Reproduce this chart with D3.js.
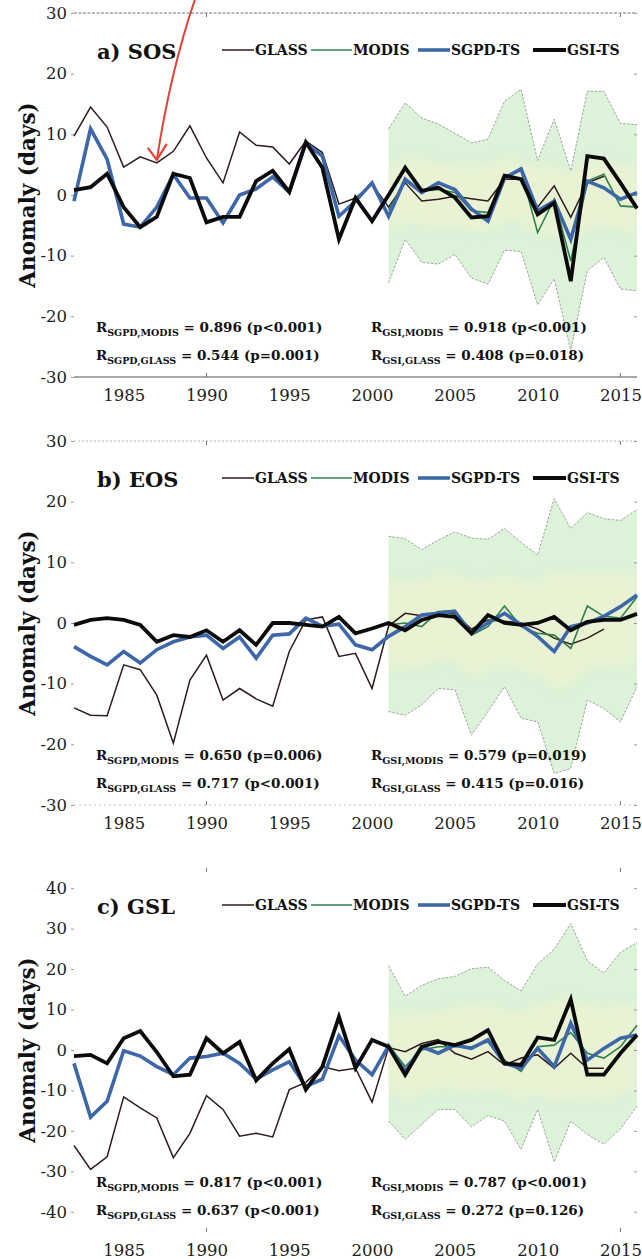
<!DOCTYPE html>
<html><head><meta charset="utf-8">
<script src="https://cdn.jsdelivr.net/npm/d3@7"></script>
<style>
body{margin:0;background:#fff}
svg{display:block}
text{font-family:"DejaVu Serif",serif}
</style>
</head><body>
<svg id="chart" width="642" height="1259"></svg>
<script>
// ---- years ----
const yearsAll = d3.range(1982, 2017);      // SGPD-TS, GSI-TS
const yearsGlass = d3.range(1982, 2015);    // GLASS
const yearsModis = d3.range(2001, 2017);    // MODIS and its spread

// ---- a) SOS anomalies (days) ----
const sosGlass = [9.7,14.5,11.2,4.6,6.3,5.3,7.2,11.4,6.1,2.0,10.4,8.2,7.9,5.1,8.9,7.0,-1.5,-0.5,1.8,-2.0,2.0,-1.0,-0.7,-0.2,-0.6,-1.0,2.6,2.6,-2.0,1.5,-3.7,2.0,3.1];
const sosSgpd  = [-1.0,10.9,5.9,-4.8,-5.3,-2.0,3.4,-0.5,-0.5,-4.6,0.0,1.0,3.0,0.5,8.5,6.4,-3.5,-1.0,2.0,-3.5,2.6,0.4,2.0,0.9,-2.3,-4.3,2.8,4.3,-2.6,-1.0,-7.3,2.3,1.2,-0.7,0.4];
const sosGsi   = [0.8,1.3,3.5,-2.0,-5.3,-3.6,3.5,2.8,-4.5,-3.6,-3.6,2.3,4.0,0.5,8.7,4.5,-7.3,-0.5,-4.3,0.0,4.5,0.7,1.2,-0.4,-3.7,-3.5,3.2,2.6,-3.2,-1.3,-14.2,6.4,6.0,2.0,-2.2];
const sosModis = [-2.5,2.3,0.7,0.9,0.4,-2.6,-2.9,3.1,4.0,-6.2,-0.7,-10.9,2.3,3.4,-1.8,-2.0];
const sosHi    = [10.9,15.2,12.7,11.7,10.2,8.6,9.2,15.5,17.4,5.7,12.5,4.0,17.1,17.1,11.8,11.6];
const sosLo    = [-14.5,-7.3,-11.1,-11.4,-9.8,-13.7,-14.7,-9.1,-9.3,-18.1,-13.8,-25.7,-12.5,-10.3,-15.5,-15.8];
const sosInHi  = [5,6,6,5,5,4,5,6,6,4,5,3,6,6,5,5];
const sosInLo  = [-6,-4,-5,-5,-5,-6,-6,-4,-4,-7,-6,-9,-5,-5,-6,-6];

// ---- b) EOS anomalies (days) ----
const eosGlass = [-14.0,-15.2,-15.3,-6.9,-7.7,-11.9,-19.8,-9.4,-5.3,-12.7,-10.8,-12.5,-13.7,-4.7,0.5,1.0,-5.5,-5.0,-10.8,-0.5,1.6,1.2,1.8,1.5,-1.0,0.5,0.3,0.0,-1.0,-2.5,-3.5,-2.5,-1.0];
const eosSgpd  = [-3.9,-5.5,-6.9,-4.7,-6.6,-4.4,-3.1,-2.3,-2.0,-4.2,-2.3,-5.8,-2.0,-1.8,0.8,-0.5,-0.2,-3.6,-4.4,-2.2,-0.6,1.3,1.6,1.9,-1.7,0.0,1.6,-0.3,-2.2,-4.7,-0.6,0.0,1.1,2.7,4.6];
const eosGsi   = [-0.3,0.5,0.8,0.5,-0.3,-3.1,-2.0,-2.3,-1.2,-3.1,-1.2,-3.6,0.0,0.0,-0.3,-0.6,1.0,-1.7,-0.9,0.0,-1.2,0.5,1.3,1.0,-1.7,1.3,0.0,-0.3,0.0,1.0,-1.2,0.2,0.5,0.5,1.5];
const eosModis = [-0.3,0.0,-0.6,1.9,2.1,-2.0,-0.6,2.8,-0.6,-1.7,-2.0,-4.2,2.8,1.1,0.8,4.3];
const eosHi    = [14.3,13.9,12.1,13.7,15.0,14.0,13.8,15.6,13.3,11.2,20.5,15.6,18.2,17.2,16.9,18.7];
const eosLo    = [-14.6,-15.2,-13.5,-10.8,-11.0,-18.5,-14.6,-10.5,-15.7,-16.3,-24.8,-24.0,-12.7,-14.1,-16.3,-10.5];
const eosInHi  = [7,7,7,8,8,7,7,8,7,6,9,8,8,8,8,8];
const eosInLo  = [-7,-8,-7,-6,-6,-9,-8,-6,-8,-8,-11,-11,-7,-7,-8,-6];

// ---- c) GSL anomalies (days) ----
const gslGlass = [-23.6,-29.5,-26.4,-11.6,-14.3,-16.8,-26.6,-20.6,-11.3,-14.7,-21.3,-20.6,-21.5,-9.8,-8.0,-4.1,-5.1,-4.5,-12.9,0.6,-0.4,1.6,2.6,-0.8,-2.3,-0.4,-3.7,-2.0,-1.2,-4.5,-0.8,-4.5,-4.5];
const gslSgpd  = [-3.3,-16.6,-12.7,-0.2,-1.5,-4.1,-6.1,-2.0,-1.6,-0.8,-3.3,-7.2,-4.9,-2.9,-9.0,-7.2,3.5,-2.5,-6.1,1.0,-5.3,0.8,-0.8,1.2,0.4,2.5,-3.3,-4.5,0.4,-4.1,6.6,-2.5,0.4,2.9,3.7];
const gslGsi   = [-1.5,-1.2,-3.3,2.9,4.7,-0.5,-6.5,-6.1,2.9,-0.8,2.0,-7.5,-3.3,0.2,-9.8,-4.1,8.2,-4.5,2.5,0.8,-6.1,0.8,2.0,1.2,2.5,4.9,-3.3,-3.7,3.1,2.5,12.5,-6.1,-6.1,-0.8,3.7];
const gslModis = [1.2,-4.1,0.0,0.8,0.8,0.8,2.0,-2.5,-5.3,0.8,1.2,4.3,-0.8,-2.0,0.8,6.1];
const gslHi    = [20.9,13.3,16.0,17.6,18.2,20.1,20.5,17.2,14.6,21.3,24.9,31.3,22.1,19.0,24.2,26.6];
const gslLo    = [-17.6,-22.1,-18.4,-14.7,-14.7,-19.0,-16.2,-17.6,-24.6,-14.7,-27.7,-17.6,-20.9,-23.3,-19.5,-13.9];
const gslInHi  = [10,8,9,10,10,11,11,10,9,11,12,13,11,10,11,12];
const gslInLo  = [-10,-12,-11,-9,-9,-11,-10,-10,-13,-9,-14,-11,-12,-12,-11,-9];

// ---- labels ----
const panelTitles = ["a) SOS", "b) EOS", "c) GSL"];
const seriesNames = ["GLASS", "MODIS", "SGPD-TS", "GSI-TS"];
const xTickLabels = [1985, 1990, 1995, 2000, 2005, 2010, 2015];
const xMinorTicks = [1990, 2015];
const yTicksAB = [-30, -20, -10, 0, 10, 20, 30];
const yTicksC = [-40, -30, -20, -10, 0, 10, 20, 30, 40];
const corrSos = [["SGPD,MODIS","0.896","p<0.001"],["SGPD,GLASS","0.544","p=0.001"],["GSI,MODIS","0.918","p<0.001"],["GSI,GLASS","0.408","p=0.018"]];
const corrEos = [["SGPD,MODIS","0.650","p=0.006"],["SGPD,GLASS","0.717","p<0.001"],["GSI,MODIS","0.579","p=0.019"],["GSI,GLASS","0.415","p=0.016"]];
const corrGsl = [["SGPD,MODIS","0.817","p<0.001"],["SGPD,GLASS","0.637","p<0.001"],["GSI,MODIS","0.787","p<0.001"],["GSI,GLASS","0.272","p=0.126"]];

// ---- styling ----
const colors = {glass:"#2e1c1c", modis:"#2f7f4c", sgpd:"#3d67a8", gsi:"#0b0b0b"};
const widths = {glass:1.5, modis:1.6, sgpd:3.6, gsi:3.8};

const svg = d3.select("#chart");
const defs = svg.append("defs");
defs.append("filter").attr("id","soft").attr("x","-10%").attr("y","-30%").attr("width","120%").attr("height","160%")
  .append("feGaussianBlur").attr("stdDeviation", 5);

const x = d3.scaleLinear().domain([1982, 2016]).range([74, 637]);

const panels = [
  {title:panelTitles[0], top:13,  dom:[-30,30], ticks:yTicksAB, glass:sosGlass, sgpd:sosSgpd, gsi:sosGsi, modis:sosModis, hi:sosHi, lo:sosLo, inHi:sosInHi, inLo:sosInLo, corr:corrSos, frame:"a"},
  {title:panelTitles[1], top:441, dom:[-30,30], ticks:yTicksAB, glass:eosGlass, sgpd:eosSgpd, gsi:eosGsi, modis:eosModis, hi:eosHi, lo:eosLo, inHi:eosInHi, inLo:eosInLo, corr:corrEos, frame:"b"},
  {title:panelTitles[2], top:868, dom:[-45,45], ticks:yTicksC, glass:gslGlass, sgpd:gslSgpd, gsi:gslGsi, modis:gslModis, hi:gslHi, lo:gslLo, inHi:gslInHi, inLo:gslInLo, corr:corrGsl, frame:"c"}
];
const panelH = 364;

panels.forEach((p, pi) => {
  const y = d3.scaleLinear().domain(p.dom).range([p.top + panelH, p.top]);
  const g = svg.append("g");
  const [x0, x1] = x.range();
  const yTop = p.top, yBot = p.top + panelH;

  // frame lines
  if (p.frame === "a") {
    g.append("line").attr("x1", x0).attr("x2", x1).attr("y1", yTop).attr("y2", yTop)
      .attr("stroke", "#777").attr("stroke-width", 1).attr("stroke-dasharray", "3,1.5");
    g.append("line").attr("x1", x0).attr("x2", x1).attr("y1", yBot).attr("y2", yBot)
      .attr("stroke", "#555").attr("stroke-width", 1.1);
  } else if (p.frame === "b") {
    g.append("line").attr("x1", x0).attr("x2", x1).attr("y1", yTop).attr("y2", yTop)
      .attr("stroke", "#aaa").attr("stroke-width", 0.9).attr("stroke-dasharray", "2,2");
    g.append("line").attr("x1", x0).attr("x2", x1).attr("y1", yBot).attr("y2", yBot)
      .attr("stroke", "#bbb").attr("stroke-width", 0.9).attr("stroke-dasharray", "2,3");
  }

  // minor x ticks top and bottom
  xMinorTicks.forEach(t => {
    g.append("line").attr("x1", x(t)).attr("x2", x(t)).attr("y1", yTop).attr("y2", yTop + 4).attr("stroke", "#777");
    g.append("line").attr("x1", x(t)).attr("x2", x(t)).attr("y1", yBot).attr("y2", yBot - 4).attr("stroke", "#777");
  });

  // spread of MODIS (outer) and core (inner, softened)
  const mData = yearsModis.map((yr, i) => ({yr, hi:p.hi[i], lo:p.lo[i], ih:p.inHi[i], il:p.inLo[i]}));
  const outer = d3.area().x(d => x(d.yr)).y0(d => y(d.lo)).y1(d => y(d.hi));
  const inner = d3.area().x(d => x(d.yr)).y0(d => y(d.il)).y1(d => y(d.ih)).curve(d3.curveBasis);
  const clipId = "band" + pi;
  defs.append("clipPath").attr("id", clipId).append("path").attr("d", outer(mData));
  g.append("path").attr("d", outer(mData)).attr("fill", "#dcf2d9");
  g.append("g").attr("clip-path", `url(#${clipId})`)
    .append("path").attr("d", inner(mData)).attr("fill", "#edf3d2").attr("filter", "url(#soft)").attr("opacity", 0.8);
  const hiLine = d3.line().x(d => x(d.yr)).y(d => y(d.hi));
  const loLine = d3.line().x(d => x(d.yr)).y(d => y(d.lo));
  [hiLine, loLine].forEach(l => g.append("path").attr("d", l(mData)).attr("fill", "none")
    .attr("stroke", "#8a8f88").attr("stroke-width", 0.8).attr("stroke-dasharray", "2.5,1.5"));

  // y axis
  const ya = d3.axisLeft(y).tickValues(p.ticks).tickSize(3).tickPadding(4).tickFormat(d => d < 0 ? "-" + Math.abs(d) : d);
  const yg = g.append("g").attr("transform", `translate(${x0},0)`).call(ya);
  yg.select(".domain").remove();
  yg.selectAll(".tick line").attr("stroke", "#999");
  yg.selectAll(".tick text").attr("font-family", "DejaVu Serif").attr("font-size", 16.5).attr("fill", "#222");
  // right ticks
  const yr = d3.axisRight(y).tickValues(p.ticks).tickSize(-3).tickFormat("");
  const yrg = g.append("g").attr("transform", `translate(${x1},0)`).call(yr);
  yrg.select(".domain").remove();
  yrg.selectAll(".tick line").attr("stroke", "#999");

  // x labels
  const xa = d3.axisBottom(x).tickValues(xTickLabels).tickSize(0).tickPadding(12).tickFormat(d3.format("d"));
  const xg = g.append("g").attr("transform", `translate(0,${yBot})`).call(xa);
  xg.select(".domain").remove();
  xg.selectAll(".tick text").attr("font-family", "DejaVu Serif").attr("font-size", 16.5).attr("fill", "#222");

  // y title
  g.append("text").attr("transform", `translate(27,${(yTop + yBot) / 2}) rotate(-90)`)
    .attr("text-anchor", "middle").attr("dy", "0.35em")
    .attr("font-size", 21.5).attr("font-weight", "bold").attr("fill", "#111").text("Anomaly (days)");

  // series
  const line = d3.line().x(d => x(d[0])).y(d => y(d[1]));
  const draw = (yrs, vals, key) => g.append("path")
    .attr("d", line(yrs.map((yy, i) => [yy, vals[i]])))
    .attr("fill", "none").attr("stroke", colors[key]).attr("stroke-width", widths[key])
    .attr("stroke-linejoin", "miter").attr("stroke-miterlimit", 4);
  draw(yearsGlass, p.glass, "glass");
  draw(yearsModis, p.modis, "modis");
  draw(yearsAll, p.sgpd, "sgpd");
  draw(yearsAll, p.gsi, "gsi");

  // panel title
  g.append("text").attr("x", 97).attr("y", yTop + 46).attr("font-size", 21).attr("font-weight", "bold")
    .attr("fill", "#111").text(p.title);

  // legend
  const legLineX = [222, 311, 418, 533];
  const legLineW = [32, 41, 32, 33];
  const legTextX = [255, 353, 451, 567];
  const keys = ["glass", "modis", "sgpd", "gsi"];
  const ly = yTop + 37;
  keys.forEach((k, i) => {
    g.append("line").attr("x1", legLineX[i]).attr("x2", legLineX[i] + legLineW[i]).attr("y1", ly).attr("y2", ly)
      .attr("stroke", colors[k]).attr("stroke-width", widths[k]);
    g.append("text").attr("x", legTextX[i]).attr("y", ly + 5).attr("font-size", 14).attr("font-weight", "bold")
      .attr("fill", "#111").text(seriesNames[i]);
  });

  // correlation notes
  const cx = [96, 96, 371, 371];
  const cy = [yTop + 319, yTop + 347, yTop + 319, yTop + 347];
  p.corr.forEach((c, i) => {
    const t = g.append("text").attr("x", cx[i]).attr("y", cy[i]).attr("font-weight", "bold").attr("fill", "#111").attr("font-size", 13.5);
    t.append("tspan").text("R");
    t.append("tspan").attr("font-size", 9.5).attr("dy", 4).text(c[0]);
    t.append("tspan").attr("font-size", 13.5).attr("dy", -4).text(` = ${c[1]} (${c[2]})`);
  });

  // pointer to the GLASS 1987 SOS value
  if (pi === 0) {
    const tx = x(1987), ty = y(sosGlass[5]) - 3;
    g.append("path").attr("d", `M${tx + 38},0 Q${tx + 14},70 ${tx},${ty}`)
      .attr("fill", "none").attr("stroke", "#e4403a").attr("stroke-width", 2);
    g.append("path").attr("d", `M${tx - 9},${ty - 12} L${tx},${ty} L${tx + 10},${ty - 16}`)
      .attr("fill", "none").attr("stroke", "#e4403a").attr("stroke-width", 2.2);
  }
});
</script>
</body></html>
